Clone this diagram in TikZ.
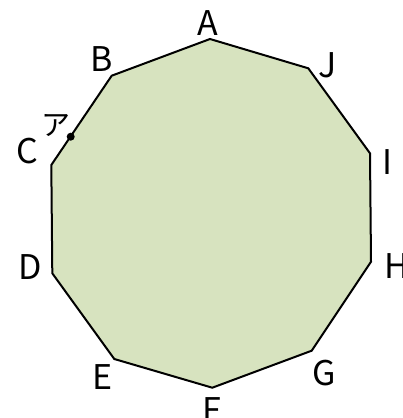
\documentclass[tikz,border=0pt]{standalone}
\usepackage{fontspec}
\setmainfont{Noto Sans CJK JP}
\definecolor{polyfill}{HTML}{D7E3BF}
\tikzset{
  lbl/.style={inner sep=0pt, font=\fontsize{34}{34}\selectfont},
  kana/.style={inner sep=0pt, font=\fontsize{29}{29}\selectfont},
  edge/.style={draw=black, line width=2pt, line join=miter, fill=polyfill},
  dot/.style={circle, fill=black, inner sep=0pt, minimum size=8pt}
}
\begin{document}
\begin{tikzpicture}[x=1pt,y=-1pt]
\useasboundingbox (0,0) rectangle (403,418);
\coordinate (A) at (210,39);
\coordinate (J) at (308.3,68.3);
\coordinate (I) at (370,153.3);
\coordinate (H) at (371,261.7);
\coordinate (G) at (311.7,350.7);
\coordinate (F) at (212.3,387.7);
\coordinate (E) at (114.3,359);
\coordinate (D) at (52.3,273.3);
\coordinate (C) at (51.3,165);
\coordinate (B) at (111.7,75.7);
\path[edge] (A) -- (J) -- (I) -- (H) -- (G) -- (F) -- (E) -- (D) -- (C) -- (B) -- cycle;
\node[dot] (P) at (70.7,136.7) {};
\node[lbl] (lA) at (208,23) {A};
\node[lbl] (lB) at (101.5,59) {B};
\node[lbl] (lJ) at (328,65) {J};
\node[lbl] (lC) at (27,151) {C};
\node[kana] (lP) at (56,126) {ア};
\node[lbl] (lI) at (387,162) {I};
\node[lbl] (lH) at (397,266) {H};
\node[lbl] (lG) at (324,373) {G};
\node[lbl] (lF) at (212,410) {F};
\node[lbl] (lE) at (103,377) {E};
\node[lbl] (lD) at (30,267) {D};
\end{tikzpicture}
\end{document}
